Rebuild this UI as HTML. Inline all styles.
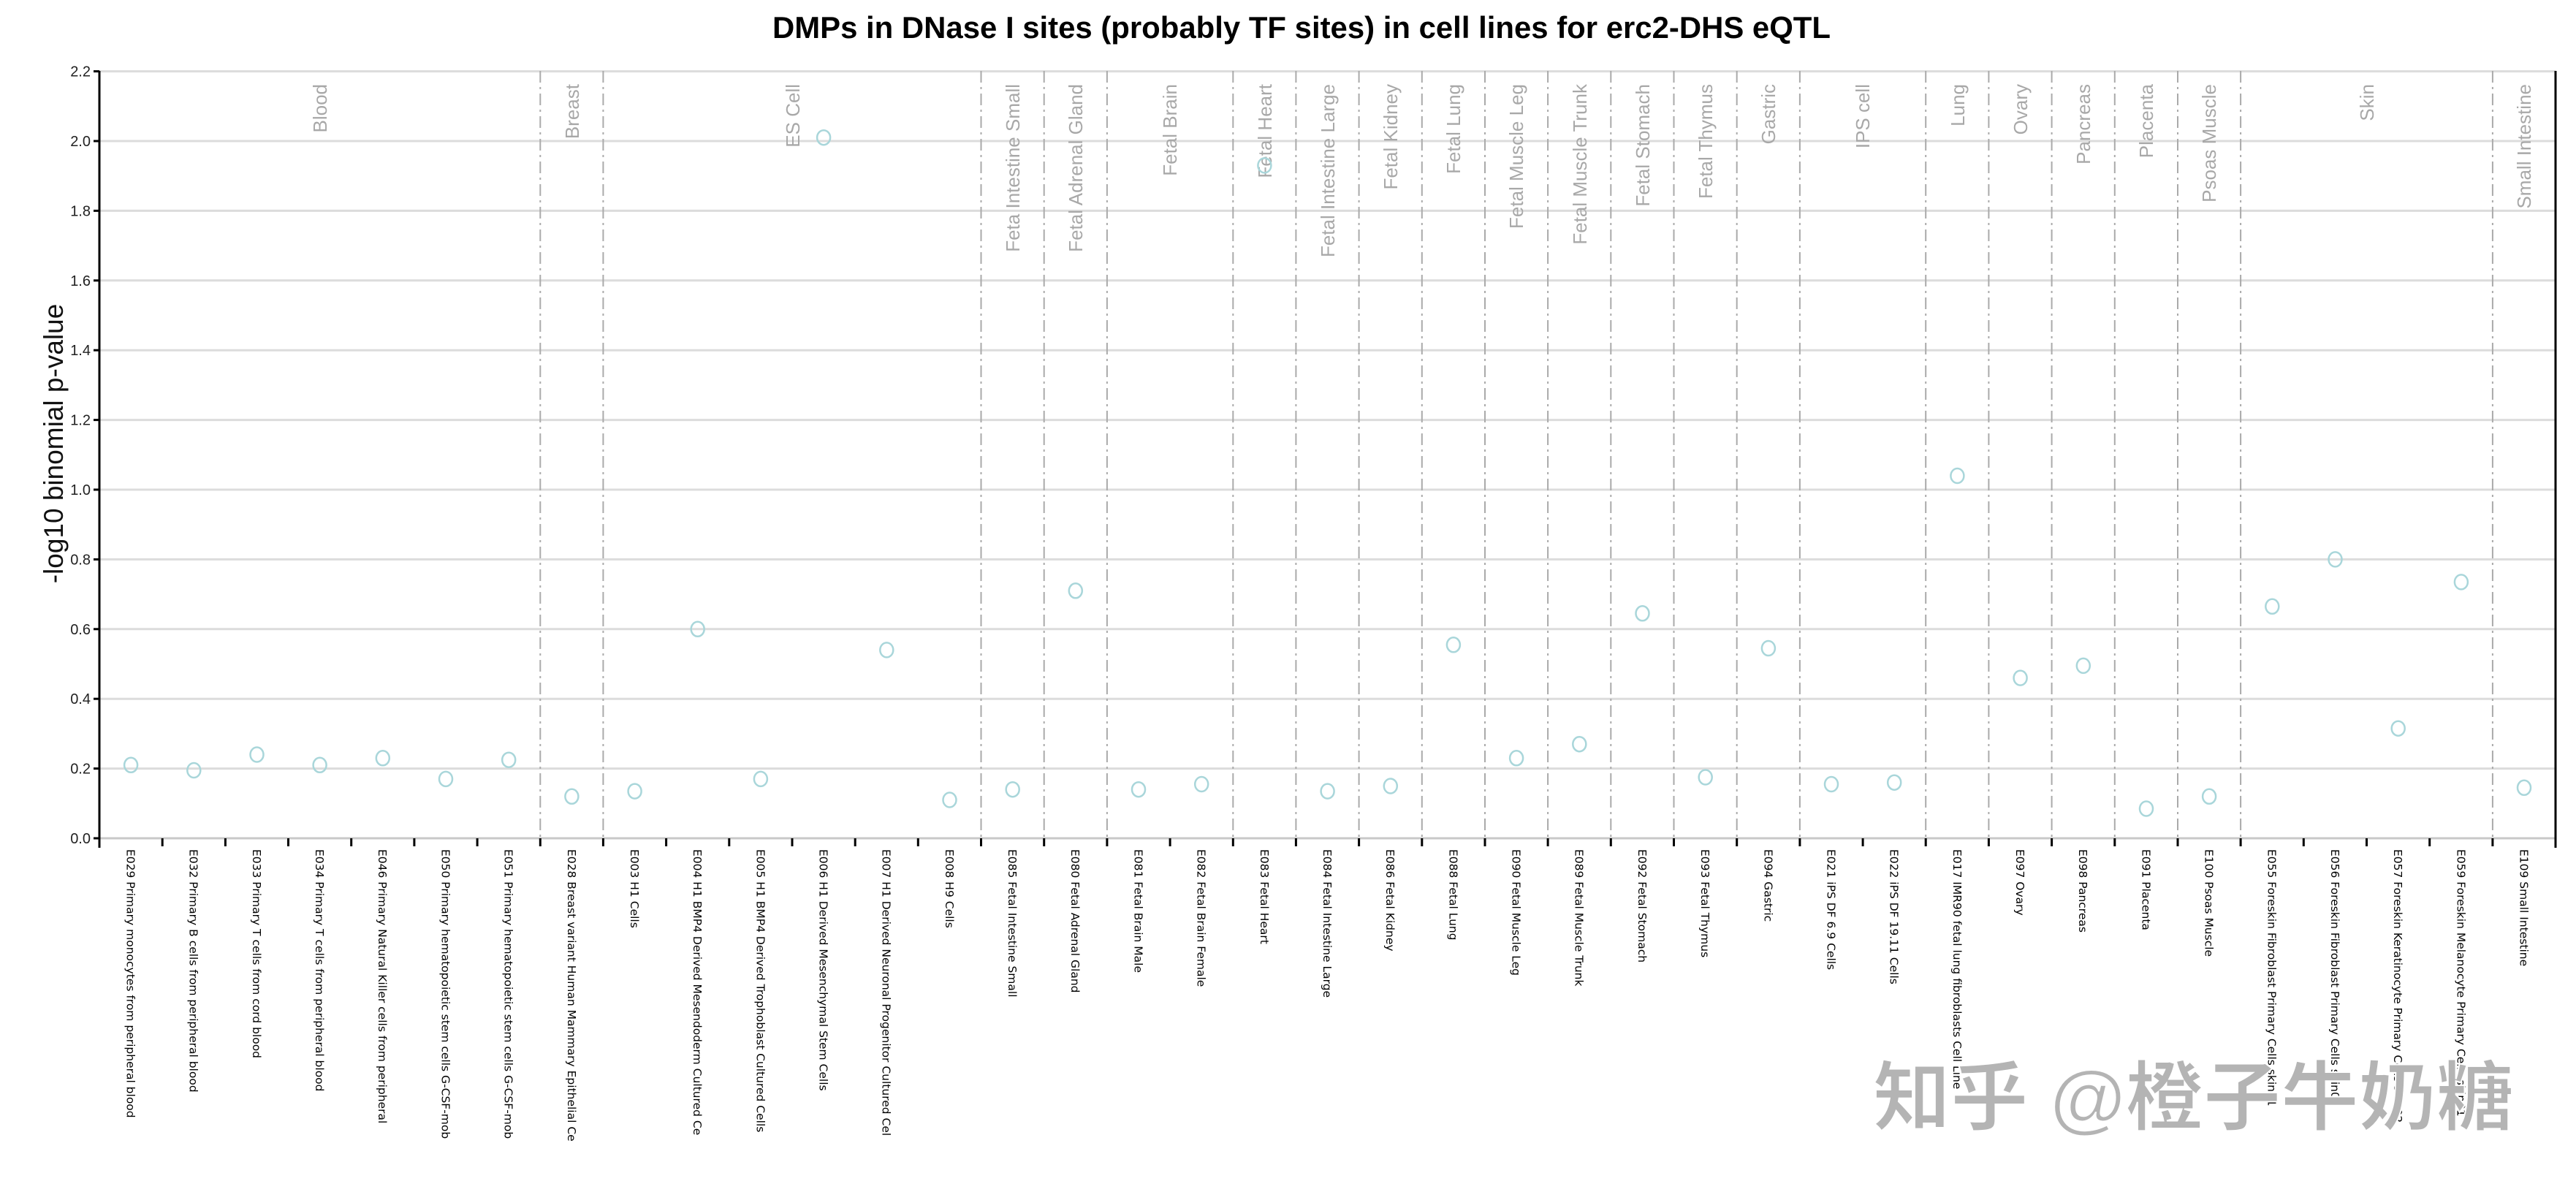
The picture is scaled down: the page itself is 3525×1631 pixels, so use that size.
<!DOCTYPE html>
<html><head><meta charset="utf-8"><style>html,body{margin:0;padding:0;background:#fff}svg{display:block}</style></head>
<body>
<svg width="3525" height="1631" viewBox="0 0 3525 1631" xmlns="http://www.w3.org/2000/svg" font-family="Liberation Sans, sans-serif">
<rect width="3525" height="1631" fill="#fff"/>
<text x="1781" y="52" text-anchor="middle" font-family="Liberation Sans Narrow, Liberation Sans, sans-serif" font-size="42" font-weight="bold" textLength="1448" lengthAdjust="spacingAndGlyphs">DMPs in DNase I sites (probably TF sites) in cell lines for erc2-DHS eQTL</text>
<g stroke="#dcdcdc" stroke-width="3">
<line x1="136" x2="3497" y1="1051.6" y2="1051.6"/><line x1="136" x2="3497" y1="956.2" y2="956.2"/><line x1="136" x2="3497" y1="860.8" y2="860.8"/><line x1="136" x2="3497" y1="765.4" y2="765.4"/><line x1="136" x2="3497" y1="670" y2="670"/><line x1="136" x2="3497" y1="574.6" y2="574.6"/><line x1="136" x2="3497" y1="479.2" y2="479.2"/><line x1="136" x2="3497" y1="383.8" y2="383.8"/><line x1="136" x2="3497" y1="288.4" y2="288.4"/><line x1="136" x2="3497" y1="193" y2="193"/><line x1="136" x2="3497" y1="97.6" y2="97.6"/>
</g>
<line x1="136" x2="3497" y1="1147" y2="1147" stroke="#c8c8c8" stroke-width="3"/>
<g stroke="#aaa" stroke-width="2" stroke-dasharray="16,6,3,6">
<line x1="739.3" x2="739.3" y1="97" y2="1147"/><line x1="825.4" x2="825.4" y1="97" y2="1147"/><line x1="1342.5" x2="1342.5" y1="97" y2="1147"/><line x1="1428.7" x2="1428.7" y1="97" y2="1147"/><line x1="1514.9" x2="1514.9" y1="97" y2="1147"/><line x1="1687.3" x2="1687.3" y1="97" y2="1147"/><line x1="1773.4" x2="1773.4" y1="97" y2="1147"/><line x1="1859.6" x2="1859.6" y1="97" y2="1147"/><line x1="1945.8" x2="1945.8" y1="97" y2="1147"/><line x1="2032" x2="2032" y1="97" y2="1147"/><line x1="2118.1" x2="2118.1" y1="97" y2="1147"/><line x1="2204.3" x2="2204.3" y1="97" y2="1147"/><line x1="2290.5" x2="2290.5" y1="97" y2="1147"/><line x1="2376.7" x2="2376.7" y1="97" y2="1147"/><line x1="2462.9" x2="2462.9" y1="97" y2="1147"/><line x1="2635.2" x2="2635.2" y1="97" y2="1147"/><line x1="2721.4" x2="2721.4" y1="97" y2="1147"/><line x1="2807.6" x2="2807.6" y1="97" y2="1147"/><line x1="2893.8" x2="2893.8" y1="97" y2="1147"/><line x1="2980" x2="2980" y1="97" y2="1147"/><line x1="3066.1" x2="3066.1" y1="97" y2="1147"/><line x1="3410.9" x2="3410.9" y1="97" y2="1147"/>
</g>
<line x1="136" x2="136" y1="97" y2="1160" stroke="#000" stroke-width="3"/>
<line x1="3497" x2="3497" y1="97" y2="1160" stroke="#000" stroke-width="3"/>
<g stroke="#000" stroke-width="3">
<line x1="128" x2="136" y1="1147" y2="1147"/><line x1="128" x2="136" y1="1051.6" y2="1051.6"/><line x1="128" x2="136" y1="956.2" y2="956.2"/><line x1="128" x2="136" y1="860.8" y2="860.8"/><line x1="128" x2="136" y1="765.4" y2="765.4"/><line x1="128" x2="136" y1="670" y2="670"/><line x1="128" x2="136" y1="574.6" y2="574.6"/><line x1="128" x2="136" y1="479.2" y2="479.2"/><line x1="128" x2="136" y1="383.8" y2="383.8"/><line x1="128" x2="136" y1="288.4" y2="288.4"/><line x1="128" x2="136" y1="193" y2="193"/><line x1="128" x2="136" y1="97.6" y2="97.6"/>
<line x1="222.2" x2="222.2" y1="1147" y2="1158"/><line x1="308.4" x2="308.4" y1="1147" y2="1158"/><line x1="394.5" x2="394.5" y1="1147" y2="1158"/><line x1="480.7" x2="480.7" y1="1147" y2="1158"/><line x1="566.9" x2="566.9" y1="1147" y2="1158"/><line x1="653.1" x2="653.1" y1="1147" y2="1158"/><line x1="739.3" x2="739.3" y1="1147" y2="1158"/><line x1="825.4" x2="825.4" y1="1147" y2="1158"/><line x1="911.6" x2="911.6" y1="1147" y2="1158"/><line x1="997.8" x2="997.8" y1="1147" y2="1158"/><line x1="1084" x2="1084" y1="1147" y2="1158"/><line x1="1170.2" x2="1170.2" y1="1147" y2="1158"/><line x1="1256.3" x2="1256.3" y1="1147" y2="1158"/><line x1="1342.5" x2="1342.5" y1="1147" y2="1158"/><line x1="1428.7" x2="1428.7" y1="1147" y2="1158"/><line x1="1514.9" x2="1514.9" y1="1147" y2="1158"/><line x1="1601.1" x2="1601.1" y1="1147" y2="1158"/><line x1="1687.3" x2="1687.3" y1="1147" y2="1158"/><line x1="1773.4" x2="1773.4" y1="1147" y2="1158"/><line x1="1859.6" x2="1859.6" y1="1147" y2="1158"/><line x1="1945.8" x2="1945.8" y1="1147" y2="1158"/><line x1="2032" x2="2032" y1="1147" y2="1158"/><line x1="2118.1" x2="2118.1" y1="1147" y2="1158"/><line x1="2204.3" x2="2204.3" y1="1147" y2="1158"/><line x1="2290.5" x2="2290.5" y1="1147" y2="1158"/><line x1="2376.7" x2="2376.7" y1="1147" y2="1158"/><line x1="2462.9" x2="2462.9" y1="1147" y2="1158"/><line x1="2549.1" x2="2549.1" y1="1147" y2="1158"/><line x1="2635.2" x2="2635.2" y1="1147" y2="1158"/><line x1="2721.4" x2="2721.4" y1="1147" y2="1158"/><line x1="2807.6" x2="2807.6" y1="1147" y2="1158"/><line x1="2893.8" x2="2893.8" y1="1147" y2="1158"/><line x1="2980" x2="2980" y1="1147" y2="1158"/><line x1="3066.1" x2="3066.1" y1="1147" y2="1158"/><line x1="3152.3" x2="3152.3" y1="1147" y2="1158"/><line x1="3238.5" x2="3238.5" y1="1147" y2="1158"/><line x1="3324.7" x2="3324.7" y1="1147" y2="1158"/><line x1="3410.9" x2="3410.9" y1="1147" y2="1158"/><line x1="136" x2="136" y1="1147" y2="1158"/>
</g>
<g font-family="Liberation Sans Narrow, Liberation Sans, sans-serif" font-size="20" text-anchor="end" fill="#222">
<text x="124" y="1154">0.0</text><text x="124" y="1058.6">0.2</text><text x="124" y="963.2">0.4</text><text x="124" y="867.8">0.6</text><text x="124" y="772.4">0.8</text><text x="124" y="677">1.0</text><text x="124" y="581.6">1.2</text><text x="124" y="486.2">1.4</text><text x="124" y="390.8">1.6</text><text x="124" y="295.4">1.8</text><text x="124" y="200">2.0</text><text x="124" y="104.6">2.2</text>
</g>
<text transform="translate(86,607) rotate(-90)" text-anchor="middle" font-size="37" fill="#111">-log10 binomial p-value</text>
<g font-size="26" fill="#a8a8a8" text-anchor="end">
<text transform="translate(447,115) rotate(-90)">Blood</text>
<text transform="translate(792,115) rotate(-90)">Breast</text>
<text transform="translate(1094,115) rotate(-90)">ES Cell</text>
<text transform="translate(1395,115) rotate(-90)">Feta Intestine Small</text>
<text transform="translate(1481,115) rotate(-90)">Fetal Adrenal Gland</text>
<text transform="translate(1610,115) rotate(-90)">Fetal Brain</text>
<text transform="translate(1740,115) rotate(-90)">Fetal Heart</text>
<text transform="translate(1826,115) rotate(-90)">Fetal Intestine Large</text>
<text transform="translate(1912,115) rotate(-90)">Fetal Kidney</text>
<text transform="translate(1998,115) rotate(-90)">Fetal Lung</text>
<text transform="translate(2084,115) rotate(-90)">Fetal Muscle Leg</text>
<text transform="translate(2171,115) rotate(-90)">Fetal Muscle Trunk</text>
<text transform="translate(2257,115) rotate(-90)">Fetal Stomach</text>
<text transform="translate(2343,115) rotate(-90)">Fetal Thymus</text>
<text transform="translate(2429,115) rotate(-90)">Gastric</text>
<text transform="translate(2558,115) rotate(-90)">IPS cell</text>
<text transform="translate(2688,115) rotate(-90)">Lung</text>
<text transform="translate(2774,115) rotate(-90)">Ovary</text>
<text transform="translate(2860,115) rotate(-90)">Pancreas</text>
<text transform="translate(2946,115) rotate(-90)">Placenta</text>
<text transform="translate(3032,115) rotate(-90)">Psoas Muscle</text>
<text transform="translate(3248,115) rotate(-90)">Skin</text>
<text transform="translate(3463,115) rotate(-90)">Small Intestine</text>
</g>
<g fill="none" stroke="#a9d6da" stroke-width="2.5">
<ellipse cx="179.1" cy="1046.8" rx="9" ry="10"/><ellipse cx="265.3" cy="1054" rx="9" ry="10"/><ellipse cx="351.5" cy="1032.5" rx="9" ry="10"/><ellipse cx="437.6" cy="1046.8" rx="9" ry="10"/><ellipse cx="523.8" cy="1037.3" rx="9" ry="10"/><ellipse cx="610" cy="1065.9" rx="9" ry="10"/><ellipse cx="696.2" cy="1039.7" rx="9" ry="10"/><ellipse cx="782.4" cy="1089.8" rx="9" ry="10"/><ellipse cx="868.6" cy="1082.6" rx="9" ry="10"/><ellipse cx="954.7" cy="860.8" rx="9" ry="10"/><ellipse cx="1040.9" cy="1065.9" rx="9" ry="10"/><ellipse cx="1127.1" cy="188.2" rx="9" ry="10"/><ellipse cx="1213.3" cy="889.4" rx="9" ry="10"/><ellipse cx="1299.5" cy="1094.5" rx="9" ry="10"/><ellipse cx="1385.7" cy="1080.2" rx="9" ry="10"/><ellipse cx="1471.8" cy="808.3" rx="9" ry="10"/><ellipse cx="1558" cy="1080.2" rx="9" ry="10"/><ellipse cx="1644.2" cy="1073" rx="9" ry="10"/><ellipse cx="1730.4" cy="226.4" rx="9" ry="10"/><ellipse cx="1816.6" cy="1082.6" rx="9" ry="10"/><ellipse cx="1902.8" cy="1075.5" rx="9" ry="10"/><ellipse cx="1988.9" cy="882.3" rx="9" ry="10"/><ellipse cx="2075.1" cy="1037.3" rx="9" ry="10"/><ellipse cx="2161.3" cy="1018.2" rx="9" ry="10"/><ellipse cx="2247.5" cy="839.3" rx="9" ry="10"/><ellipse cx="2333.7" cy="1063.5" rx="9" ry="10"/><ellipse cx="2419.9" cy="887" rx="9" ry="10"/><ellipse cx="2506" cy="1073" rx="9" ry="10"/><ellipse cx="2592.2" cy="1070.7" rx="9" ry="10"/><ellipse cx="2678.4" cy="651" rx="9" ry="10"/><ellipse cx="2764.6" cy="927.6" rx="9" ry="10"/><ellipse cx="2850.8" cy="910.9" rx="9" ry="10"/><ellipse cx="2937" cy="1106.5" rx="9" ry="10"/><ellipse cx="3023.1" cy="1089.8" rx="9" ry="10"/><ellipse cx="3109.3" cy="829.8" rx="9" ry="10"/><ellipse cx="3195.5" cy="765.4" rx="9" ry="10"/><ellipse cx="3281.7" cy="996.7" rx="9" ry="10"/><ellipse cx="3367.9" cy="796.4" rx="9" ry="10"/><ellipse cx="3454" cy="1077.8" rx="9" ry="10"/>
</g>
<g font-family="DejaVu Sans, sans-serif" font-size="15.5" fill="#000">
<text transform="translate(173.5,1162) rotate(90)">E029 Primary monocytes from peripheral blood</text>
<text transform="translate(259.7,1162) rotate(90)">E032 Primary B cells from peripheral blood</text>
<text transform="translate(345.9,1162) rotate(90)">E033 Primary T cells from cord blood</text>
<text transform="translate(432,1162) rotate(90)">E034 Primary T cells from peripheral blood</text>
<text transform="translate(518.2,1162) rotate(90)">E046 Primary Natural Killer cells from peripheral</text>
<text transform="translate(604.4,1162) rotate(90)">E050 Primary hematopoietic stem cells G-CSF-mob</text>
<text transform="translate(690.6,1162) rotate(90)">E051 Primary hematopoietic stem cells G-CSF-mob</text>
<text transform="translate(776.8,1162) rotate(90)">E028 Breast variant Human Mammary Epithelial Ce</text>
<text transform="translate(863,1162) rotate(90)">E003 H1 Cells</text>
<text transform="translate(949.1,1162) rotate(90)">E004 H1 BMP4 Derived Mesendoderm Cultured Ce</text>
<text transform="translate(1035.3,1162) rotate(90)">E005 H1 BMP4 Derived Trophoblast Cultured Cells</text>
<text transform="translate(1121.5,1162) rotate(90)">E006 H1 Derived Mesenchymal Stem Cells</text>
<text transform="translate(1207.7,1162) rotate(90)">E007 H1 Derived Neuronal Progenitor Cultured Cel</text>
<text transform="translate(1293.9,1162) rotate(90)">E008 H9 Cells</text>
<text transform="translate(1380.1,1162) rotate(90)">E085 Fetal Intestine Small</text>
<text transform="translate(1466.2,1162) rotate(90)">E080 Fetal Adrenal Gland</text>
<text transform="translate(1552.4,1162) rotate(90)">E081 Fetal Brain Male</text>
<text transform="translate(1638.6,1162) rotate(90)">E082 Fetal Brain Female</text>
<text transform="translate(1724.8,1162) rotate(90)">E083 Fetal Heart</text>
<text transform="translate(1811,1162) rotate(90)">E084 Fetal Intestine Large</text>
<text transform="translate(1897.2,1162) rotate(90)">E086 Fetal Kidney</text>
<text transform="translate(1983.3,1162) rotate(90)">E088 Fetal Lung</text>
<text transform="translate(2069.5,1162) rotate(90)">E090 Fetal Muscle Leg</text>
<text transform="translate(2155.7,1162) rotate(90)">E089 Fetal Muscle Trunk</text>
<text transform="translate(2241.9,1162) rotate(90)">E092 Fetal Stomach</text>
<text transform="translate(2328.1,1162) rotate(90)">E093 Fetal Thymus</text>
<text transform="translate(2414.3,1162) rotate(90)">E094 Gastric</text>
<text transform="translate(2500.4,1162) rotate(90)">E021 iPS DF 6.9 Cells</text>
<text transform="translate(2586.6,1162) rotate(90)">E022 iPS DF 19.11 Cells</text>
<text transform="translate(2672.8,1162) rotate(90)">E017 IMR90 fetal lung fibroblasts Cell Line</text>
<text transform="translate(2759,1162) rotate(90)">E097 Ovary</text>
<text transform="translate(2845.2,1162) rotate(90)">E098 Pancreas</text>
<text transform="translate(2931.4,1162) rotate(90)">E091 Placenta</text>
<text transform="translate(3017.5,1162) rotate(90)">E100 Psoas Muscle</text>
<text transform="translate(3103.7,1162) rotate(90)">E055 Foreskin Fibroblast Primary Cells skin01</text>
<text transform="translate(3189.9,1162) rotate(90)">E056 Foreskin Fibroblast Primary Cells skin02</text>
<text transform="translate(3276.1,1162) rotate(90)">E057 Foreskin Keratinocyte Primary Cells skin02</text>
<text transform="translate(3362.3,1162) rotate(90)">E059 Foreskin Melanocyte Primary Cells skin01</text>
<text transform="translate(3448.4,1162) rotate(90)">E109 Small Intestine</text>
</g>
<text x="2563" y="1538" font-family="Liberation Sans, Noto Sans CJK SC, sans-serif" font-size="104" font-weight="bold" fill="#b4b4b4" stroke="#fff" stroke-width="2" textLength="877" lengthAdjust="spacingAndGlyphs">知乎 @橙子牛奶糖</text>
</svg>
</body></html>
